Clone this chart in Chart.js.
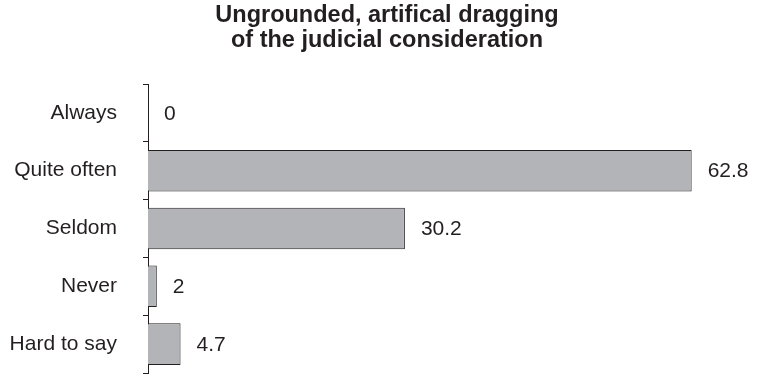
<!DOCTYPE html>
<html>
<head>
<meta charset="utf-8">
<script src="https://cdn.jsdelivr.net/npm/chart.js@4/dist/chart.umd.min.js"></script>
<style>
  html, body { margin: 0; padding: 0; background: #fff; overflow: hidden; }
  #wrap { position: relative; width: 757px; height: 377px; }
</style>
</head>
<body>
<div id="wrap"><canvas id="bars"></canvas></div>
<script>
Chart.defaults.font.family = '"Liberation Sans", Arial, sans-serif';
Chart.defaults.color = '#231f20';

const answers = ["Always", "Quite often", "Seldom", "Never", "Hard to say"];
const shares = [0, 62.8, 30.2, 2, 4.7];
const titleLines = ["Ungrounded, artifical dragging", "of the judicial consideration"];

// two-line title, a bit right of the canvas centre like the original
const chartTitle = {
    id: 'chartTitle',
    afterDraw(chart) {
        const ctx = chart.ctx;
        ctx.save();
        ctx.font = 'bold 23.5px "Liberation Sans", Arial, sans-serif';
        ctx.fillStyle = '#231f20';
        ctx.textAlign = 'center';
        ctx.textBaseline = 'alphabetic';
        titleLines.forEach((line, i) => {
            ctx.fillText(line, 387, 22 + i * 25);
        });
        ctx.restore();
    }
};

// value written to the right of every bar
const valueLabels = {
    id: 'valueLabels',
    afterDatasetsDraw(chart) {
        const ctx = chart.ctx;
        const meta = chart.getDatasetMeta(0);
        const left = chart.chartArea.left;
        ctx.save();
        ctx.font = '21px "Liberation Sans", Arial, sans-serif';
        ctx.fillStyle = '#231f20';
        ctx.textBaseline = 'middle';
        ctx.textAlign = 'left';
        meta.data.forEach((bar, i) => {
            ctx.fillText(String(shares[i]), Math.max(bar.x, left) + 16, bar.y + 1);
        });
        ctx.restore();
    }
};

new Chart(document.getElementById('bars'), {
    type: 'bar',
    data: {
        labels: answers,
        datasets: [{
            data: shares,
            backgroundColor: '#b3b4b7',
            borderColor: '#231f20',
            borderWidth: 1,
            barPercentage: 0.72,
            categoryPercentage: 1
        }]
    },
    options: {
        indexAxis: 'y',
        responsive: true,
        maintainAspectRatio: false,
        animation: false,
        layout: { padding: { left: 0, right: 2, top: 84, bottom: 4 } },
        scales: {
            x: {
                display: false,
                min: 1,
                max: 70
            },
            y: {
                afterFit: (scale) => {
                    scale.width = 148;
                    // the big tick padding should not eat the bottom margin
                    scale.paddingTop = 0;
                    scale.paddingBottom = 0;
                },
                grid: {
                    offset: true,
                    drawOnChartArea: false,
                    tickLength: 5,
                    color: '#231f20'
                },
                border: { display: true, color: '#231f20', width: 1 },
                ticks: {
                    padding: 26,
                    font: { size: 21 },
                    color: '#231f20'
                }
            }
        },
        plugins: {
            legend: { display: false },
            tooltip: { enabled: false },
            title: { display: false }
        }
    },
    plugins: [valueLabels, chartTitle]
});
</script>
</body>
</html>
